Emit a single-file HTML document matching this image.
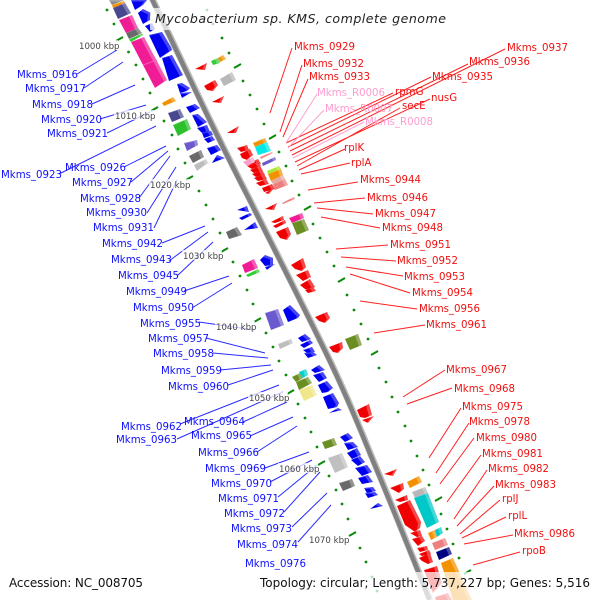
<!DOCTYPE html>
<html><head><meta charset="utf-8"><style>html,body{margin:0;padding:0;background:#fff}svg{display:block}
.l text,text.l{font-family:"DejaVu Sans",sans-serif;font-size:10.2px}
.k{font-family:"DejaVu Sans",sans-serif;font-size:8.6px;fill:#444}
polygon{filter:url(#s)}
</style></head><body>
<svg width="600" height="600" viewBox="0 0 600 600" xmlns="http://www.w3.org/2000/svg">
<defs>
<filter id="s" x="-20%" y="-20%" width="140%" height="140%" color-interpolation-filters="sRGB">
<feOffset in="SourceAlpha" dx="-3" dy="1.5" result="off"/>
<feFlood flood-color="#fff" flood-opacity=".28" result="w"/>
<feComposite in="w" in2="SourceAlpha" operator="in" result="m"/>
<feComposite in="m" in2="off" operator="out" result="strip"/>
<feMerge><feMergeNode in="SourceGraphic"/><feMergeNode in="strip"/></feMerge>
</filter>
</defs>
<!-- ring -->
<path d="M151.5,-3C185,68 215,132 250,200C275,250 298,295 320,340C340,380 355,415 371,455C390,500 410,550 430,600" fill="none" stroke="#bdbdbd" stroke-width="6.5"/>
<path d="M151,-3C184.500,68 214.500,132 249.500,200C274.500,250 297.500,295 319.500,340C339.500,380 354.500,415 370.500,455C389.500,500 409.500,550 429.500,600" fill="none" stroke="#808080" stroke-width="4.4"/>
<!-- green ticks -->
<g fill="#0a8a0a">
<circle cx="107" cy="10" r="1.4"/><circle cx="114" cy="24" r="1.4"/><circle cx="128.5" cy="52" r="1.4"/><circle cx="136" cy="65" r="1.4"/><circle cx="143" cy="79" r="1.4"/><circle cx="150" cy="93" r="1.4"/><circle cx="164" cy="121" r="1.4"/><circle cx="172" cy="135" r="1.4"/><circle cx="178" cy="149" r="1.4"/><circle cx="185" cy="163" r="1.4"/><circle cx="199" cy="191" r="1.4"/><circle cx="206" cy="205" r="1.4"/><circle cx="213" cy="219" r="1.4"/><circle cx="220" cy="233" r="1.4"/><circle cx="233" cy="262" r="1.4"/><circle cx="240" cy="276" r="1.4"/><circle cx="247" cy="290" r="1.4"/><circle cx="253" cy="304" r="1.4"/><circle cx="266" cy="333" r="1.4"/><circle cx="273" cy="347" r="1.4"/><circle cx="279" cy="361" r="1.4"/><circle cx="286" cy="375" r="1.4"/><circle cx="298" cy="404" r="1.4"/><circle cx="305" cy="418" r="1.4"/><circle cx="311" cy="432" r="1.4"/><circle cx="317" cy="447" r="1.4"/><circle cx="329" cy="476" r="1.4"/><circle cx="336" cy="490" r="1.4"/><circle cx="342" cy="504" r="1.4"/><circle cx="348" cy="519" r="1.4"/><circle cx="360" cy="548" r="1.4"/><circle cx="366" cy="562" r="1.4"/>
<circle cx="222" cy="38" r="1.4"/><circle cx="229" cy="53" r="1.4"/><circle cx="243" cy="81" r="1.4"/><circle cx="250" cy="95" r="1.4"/><circle cx="257" cy="109" r="1.4"/><circle cx="264" cy="124" r="1.4"/><circle cx="279" cy="152" r="1.4"/><circle cx="286" cy="166" r="1.4"/><circle cx="292" cy="181" r="1.4"/><circle cx="299" cy="195" r="1.4"/><circle cx="313" cy="224" r="1.4"/><circle cx="320" cy="238" r="1.4"/><circle cx="327" cy="252" r="1.4"/><circle cx="334" cy="266" r="1.4"/><circle cx="347" cy="295" r="1.4"/><circle cx="354" cy="310" r="1.4"/><circle cx="361" cy="324" r="1.4"/><circle cx="368" cy="339" r="1.4"/><circle cx="379" cy="368" r="1.4"/><circle cx="386" cy="382" r="1.4"/><circle cx="392" cy="397" r="1.4"/><circle cx="398" cy="412" r="1.4"/><circle cx="405" cy="426" r="1.4"/><circle cx="411" cy="441" r="1.4"/><circle cx="417" cy="456" r="1.4"/><circle cx="423" cy="470" r="1.4"/><circle cx="429" cy="485" r="1.4"/><circle cx="441" cy="514" r="1.4"/><circle cx="447" cy="529" r="1.4"/><circle cx="453" cy="544" r="1.4"/><circle cx="459" cy="558" r="1.4"/>
<circle cx="207" cy="10" r="1.4"/><circle cx="213" cy="24" r="1.4"/><circle cx="372" cy="577" r="1.4"/><circle cx="377" cy="591" r="1.4"/>
</g>
<g stroke="#0a8a0a" stroke-width="2" fill="none">
<path d="M116,41l7,-4M151,111l7,-4M186,180l7,-4M221,252l7,-4M254,322l7,-4M287,394l7,-4M318,465l7,-4M349,536l7,-4M234,68l7,-4M269,139l7,-4M304,210l7,-4M338,282l7,-4M371,355l7,-4M435,501l7,-4M464,574l7,-4"/>
</g>
<!-- blue arrows -->
<g fill="#0000f0">
<polygon points="131,0 147,0 143,5 135,10"/><polygon points="138,13 143,9 151,13 150,20 143,24"/><polygon points="145,26 152,23 155,29 150,32"/><polygon points="149,35 162,32 171,47 172,50 160,58"/><polygon points="162,58 172,55 183,75 169,81"/><polygon points="177,84 182,83 190,88 187,91 180,93"/><polygon points="180,93 192,92 182,98"/><polygon points="186,107 195,104 200,108 190,113"/><polygon points="192,115 198,114 207,122 198,127"/><polygon points="197,128 207,125 210,132 202,133"/><polygon points="202,133 211,131 213,135 204,138"/><polygon points="204,139 212,136 215,140 208,143"/><polygon points="207,148 217,145 221,150 211,155"/><polygon points="212,163 217,155 225,158"/>
<polygon points="237,210 247,206 249,212"/><polygon points="239,218 250,213 252,215 242,220"/><polygon points="244,230 255,222 258,228"/><polygon points="260,260 265,255 273,258 273,265 265,266"/><polygon points="265,267 275,264 267,270"/><polygon points="283,310 290,305 300,315 298,318 288,322"/><polygon points="298,338 305,334 311,339 302,342"/><polygon points="300,345 310,340 313,343 304,348"/><polygon points="303,350 312,347 315,352 307,353"/><polygon points="304,353 313,352 317,355 308,358"/><polygon points="311,370 319,365 325,370 315,373"/><polygon points="313,375 323,372 327,378 319,382"/><polygon points="318,385 327,381 333,388 328,392 322,393"/><polygon points="323,397 333,393 339,403 337,407 328,409"/><polygon points="329,413 338,408 342,410"/><polygon points="340,437 348,433 353,438 345,442"/><polygon points="344,443 353,442 358,447 348,450"/><polygon points="347,453 357,448 361,455 352,459"/><polygon points="351,460 360,456 365,462 358,466"/><polygon points="355,468 367,465 372,472 362,476"/><polygon points="358,478 368,475 373,482 362,484"/><polygon points="364,488 373,487 376,491 367,493"/><polygon points="365,493 375,492 378,495 368,498"/><polygon points="370,509 378,503 383,506"/>
</g>
<!-- red arrows -->
<g fill="#f00000">
<polygon points="195,69 207,63 205,70"/><polygon points="204,86 215,80 218,85 213,91 207,90"/><polygon points="212,102 224,96 221,103"/><polygon points="227,133 239,126 236,133"/>
<polygon points="237,148 247,145 249,150 241,152"/><polygon points="240,154 250,149 253,155 247,160 242,158"/>
<polygon points="247,164 258,159 261,164 252,166"/><polygon points="247,166 258,162 261,166 252,169"/><polygon points="250,170 260,166 263,171 254,173"/><polygon points="252,174 262,170 265,175 256,177"/><polygon points="254,178 264,174 267,179 258,181"/><polygon points="256,183 266,179 269,184 260,186"/><polygon points="262,188 272,184 275,189 264,192"/><polygon points="265,193 274,188 269,194"/>
<polygon points="265,209 277,203 274,210"/><polygon points="271,222 283,216 284,220 275,223"/><polygon points="273,226 285,220 286,223 276,228"/><polygon points="276,232 288,227 291,234 287,240 280,238"/>
<polygon points="291,265 303,258 306,267 302,271 295,269"/><polygon points="296,275 308,270 311,277 303,281"/><polygon points="300,285 310,279 315,287 310,290 305,289"/><polygon points="305,290 313,287 316,291 308,293"/><polygon points="315,317 327,312 330,318 325,323 319,321"/><polygon points="329,347 342,342 343,348 338,353 333,352"/>
<polygon points="357,410 369,404 372,415 365,418 360,417"/><polygon points="362,420 374,416 368,423"/>
<polygon points="384,474 397,469 393,476"/><polygon points="390,488 403,483 404,489 399,493"/><polygon points="395,500 407,495 408,500 400,502"/><polygon points="397,506 410,500 421,522 420,528 415,532 405,525"/><polygon points="410,533 420,530 422,536 417,537"/><polygon points="412,539 422,536 425,541 418,546"/><polygon points="417,548 427,546 428,550 420,552"/><polygon points="419,554 429,550 431,554 422,556"/><polygon points="419,558 430,553 433,562 428,564 422,561"/><polygon points="424,570 437,566 442,583 433,593"/><polygon points="435,597 448,593 452,600 436,600"/>
</g>
<polygon points="243,162 253,157 255,162 247,166" fill="#f8a0c8"/>
<!-- boxes -->
<polygon points="109,0 124,0 122,1 112,5" fill="#8a8a8a"/><polygon points="112,5 124,1 125,3 113,8" fill="#f58f00"/><polygon points="113,8 125,3 131,13 118,19" fill="#484890"/><polygon points="119,20 132,15 138,28 126,33" fill="#f01c95"/><polygon points="126,33 138,28 142,33 129,39" fill="#6a6a6a"/><polygon points="129,39.5 142,33.5 143,35 131,42" fill="#32cd32"/><polygon points="131,42 144,37 167,80 155,88" fill="#f01c95"/>
<path d="M143,65L157,60" stroke="#f86cb8" stroke-width=".8"/>
<polygon points="162,103 173,97 176,101 164,106" fill="#f39200"/><polygon points="168,113 180,109 184,117 172,122" fill="#484890"/><polygon points="173,125 187,119 191,129 178,136" fill="#2cc02c"/><polygon points="184,143 197,140 198,145 187,151" fill="#6a5acd"/><polygon points="189,156 201,150 204,157 193,163" fill="#696969"/><polygon points="194,165 206,159 208,163 197,171" fill="#bdbdbd"/>
<polygon points="211,61 218,58 220,63 213,65" fill="#32cd32"/><polygon points="218,58 223,55 226,59 220,62" fill="#f39200"/><polygon points="220,79 232,72 236,80 224,86" fill="#b8b8b8"/>
<polygon points="253,143 265,138 267,142 255,147" fill="#f39200"/><polygon points="255,147 267,142 271,151 258,155" fill="#00e8e8"/><polygon points="260,157 272,152 273,153 261,159" fill="#f08a8a"/><polygon points="262,163 275,157 276,160 263,166" fill="#6a5acd"/><polygon points="267,171 279,166 281,169 268,174" fill="#a8e830"/><polygon points="268,174 281,169 283,175 271,181" fill="#f39200"/><polygon points="271,181 283,175 285,179 273,184" fill="#e8a8a0"/><polygon points="273,184 285,179 288,185 275,190" fill="#ec8080"/>
<polygon points="282,203 294,197 295,199 283,204" fill="#ec8080"/><polygon points="289,218 302,213 304,218 292,223" fill="#f01c95"/><polygon points="292,223 304,219 309,230 297,235" fill="#6b8e23"/>
<polygon points="226,232 237,227 242,235 229,239" fill="#696969"/><polygon points="242,265 254,259 258,268 245,273" fill="#f01c95"/><polygon points="246,275 258,269 260,272 248,277" fill="#32cd32"/><polygon points="265,313 278,309 284,325 271,330" fill="#6a5acd"/><polygon points="278,344 291,339 293,343 280,349" fill="#bdbdbd"/><polygon points="345,339 358,334 362,345 350,350" fill="#6b8e23"/>
<polygon points="292,377 300,373 303,378 296,382" fill="#6b8e23"/><polygon points="299,372 306,369 308,375 303,378" fill="#00d0d0"/><polygon points="296,382 308,377 312,383 299,390" fill="#6b8e23"/><polygon points="299,390 312,385 317,395 304,401" fill="#f0e68c"/>
<polygon points="322,442 334,438 337,445 325,449" fill="#6b8e23"/><polygon points="328,458 342,453 348,467 335,473" fill="#c0c0c0"/><polygon points="339,483 352,479 355,486 343,491" fill="#696969"/>
<polygon points="407,482 419,476 422,482 410,488" fill="#f39200"/><polygon points="412,492 425,487 428,493 415,498" fill="#b8b8b8"/><polygon points="414,498 428,493 439,522 427,528" fill="#00c8c8"/><polygon points="428,533 435,530 437,537 431,540" fill="#f39200"/><polygon points="435,530 441,527 443,533 437,537" fill="#00c8c8"/><polygon points="432,543 445,538 448,545 435,550" fill="#ec8080"/><polygon points="436,552 449,547 452,554 439,560" fill="#000080"/><polygon points="441,563 453,558 472,600 453,600" fill="#f39200"/>
<!-- label lines -->
<g stroke="#2a2aff" stroke-width="1" fill="none">
<path d="M77,74L117,50M84,88L123,62M92,104L135,85M100,119L146,105M107,133L150,112M59,174L156,126M124,167L166,146M131,182L168,151M139,198L170,156M147,213L176,167M154,228L177,180M162,243L205,226M169,261L208,232M177,276L213,242M184,291L229,276M192,308L232,283M199,322L254,330M206,338L265,353M213,353L268,358M220,370L271,365M228,385L273,370M180,424L279,385M177,439L283,392M243,422L287,402M250,436L293,417M257,452L297,426M265,468L309,452M270,482L312,460M278,497L317,465M284,512L320,472M292,527L327,493M298,542L331,505"/>
</g>
<g stroke="#ff2020" stroke-width="1" fill="none">
<path d="M292,48L270,113M302,65L280,132M308,79L283,137M393,93L286,143M431,77L288,147M468,64L290,151M505,49L292,155M430,99L295,162M400,108L297,166M345,149L299,170M350,163L301,174M358,182L308,190M365,198L314,203M373,214L317,208M380,228L321,217M388,245L336,249M396,261L341,257M403,276L346,267M410,293L350,274M417,309L360,301M425,325L374,333M445,370L403,397M452,388L407,404M461,408L429,458M469,423L436,473M474,438L440,484M481,455L447,502M487,470L454,519M494,486L457,526M500,500L460,534M506,517L462,538M513,535L464,544M520,552L473,565"/>
</g>
<g stroke="#ffa0d0" stroke-width="1" fill="none"><path d="M317,94L286,143M324,110L288,148M364,122L293,158"/></g>
<!-- overlays -->
<g fill="#fff" opacity=".72">
<rect x="150" y="8" width="300" height="22"/><rect x="0" y="572" width="150" height="28"/><rect x="256" y="572" width="344" height="28"/>
<rect x="78" y="40" width="40" height="10"/><rect x="114" y="110" width="40" height="10"/><rect x="149" y="179" width="40" height="10"/><rect x="182" y="250" width="40" height="10"/><rect x="215" y="321" width="40" height="10"/><rect x="248" y="392" width="40" height="10"/><rect x="278" y="463" width="40" height="10"/><rect x="308" y="534" width="40" height="10"/>
</g>
<!-- kbp labels -->
<text class="k" x="79" y="49">1000 kbp</text><text class="k" x="115" y="119">1010 kbp</text><text class="k" x="150" y="188">1020 kbp</text><text class="k" x="183" y="259">1030 kbp</text><text class="k" x="216" y="330">1040 kbp</text><text class="k" x="249" y="401">1050 kbp</text><text class="k" x="279" y="472">1060 kbp</text><text class="k" x="309" y="543">1070 kbp</text>
<!-- blue labels -->
<g class="l" fill="#1010ff">
<text x="17" y="78">Mkms_0916</text><text x="25" y="92">Mkms_0917</text><text x="32" y="108">Mkms_0918</text><text x="41" y="123">Mkms_0920</text><text x="47" y="137">Mkms_0921</text><text x="1" y="178">Mkms_0923</text><text x="65" y="171">Mkms_0926</text><text x="72" y="186">Mkms_0927</text><text x="80" y="202">Mkms_0928</text><text x="86" y="216">Mkms_0930</text><text x="93" y="231">Mkms_0931</text><text x="102" y="247">Mkms_0942</text><text x="111" y="263">Mkms_0943</text><text x="118" y="279">Mkms_0945</text><text x="126" y="295">Mkms_0949</text><text x="133" y="311">Mkms_0950</text><text x="140" y="327">Mkms_0955</text><text x="148" y="342">Mkms_0957</text><text x="153" y="357">Mkms_0958</text><text x="161" y="374">Mkms_0959</text><text x="168" y="390">Mkms_0960</text><text x="121" y="430">Mkms_0962</text><text x="116" y="443">Mkms_0963</text><text x="184" y="425">Mkms_0964</text><text x="191" y="439">Mkms_0965</text><text x="198" y="456">Mkms_0966</text><text x="205" y="472">Mkms_0969</text><text x="211" y="487">Mkms_0970</text><text x="218" y="502">Mkms_0971</text><text x="224" y="517">Mkms_0972</text><text x="231" y="532">Mkms_0973</text><text x="237" y="548">Mkms_0974</text><text x="245" y="567">Mkms_0976</text>
</g>
<!-- red labels -->
<g class="l" fill="#f01010">
<text x="294" y="50">Mkms_0929</text><text x="303" y="67">Mkms_0932</text><text x="309" y="80">Mkms_0933</text><text x="507" y="51">Mkms_0937</text><text x="469" y="65">Mkms_0936</text><text x="432" y="80">Mkms_0935</text><text x="395" y="95">rpmG</text><text x="431" y="101">nusG</text><text x="402" y="109">secE</text><text x="344" y="151">rplK</text><text x="351" y="166">rplA</text><text x="360" y="183">Mkms_0944</text><text x="367" y="201">Mkms_0946</text><text x="375" y="217">Mkms_0947</text><text x="382" y="231">Mkms_0948</text><text x="390" y="248">Mkms_0951</text><text x="397" y="264">Mkms_0952</text><text x="404" y="280">Mkms_0953</text><text x="412" y="296">Mkms_0954</text><text x="419" y="312">Mkms_0956</text><text x="426" y="328">Mkms_0961</text><text x="446" y="373">Mkms_0967</text><text x="454" y="392">Mkms_0968</text><text x="462" y="410">Mkms_0975</text><text x="469" y="425">Mkms_0978</text><text x="476" y="441">Mkms_0980</text><text x="482" y="457">Mkms_0981</text><text x="488" y="472">Mkms_0982</text><text x="495" y="488">Mkms_0983</text><text x="502" y="502">rplJ</text><text x="508" y="519">rplL</text><text x="514" y="537">Mkms_0986</text><text x="522" y="554">rpoB</text>
</g>
<g class="l" fill="#ff9ccf">
<text x="317" y="96">Mkms_R0006</text><text x="325" y="112">Mkms_R0007</text><text x="365" y="125">Mkms_R0008</text>
</g>
<!-- title / legend -->
<text x="155" y="23" font-family="DejaVu Sans,sans-serif" font-style="italic" font-size="12.6" fill="#222" textLength="291">Mycobacterium sp. KMS, complete genome</text>
<text x="9" y="587" font-family="DejaVu Sans,sans-serif" font-size="12" fill="#111" textLength="134">Accession: NC_008705</text>
<text x="260" y="587" font-family="DejaVu Sans,sans-serif" font-size="12" fill="#111" textLength="330">Topology: circular; Length: 5,737,227 bp; Genes: 5,516</text>
</svg>
</body></html>
